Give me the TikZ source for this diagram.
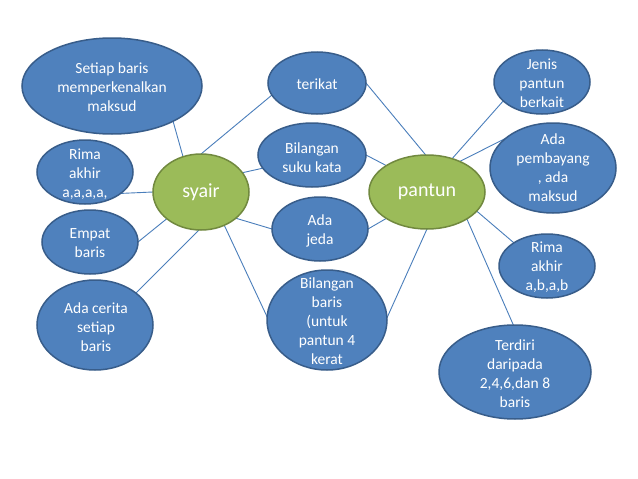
\documentclass[tikz,border=0pt]{standalone}
\usepackage{fontspec}
\setmainfont{Carlito}
\usetikzlibrary{shapes.geometric,backgrounds}
\definecolor{bfill}{HTML}{4F81BD}
\definecolor{bdraw}{HTML}{385D8A}
\definecolor{gfill}{HTML}{9BBB59}
\definecolor{gdraw}{HTML}{71893F}
\definecolor{lcol}{HTML}{4A7EBB}
\begin{document}
\begin{tikzpicture}[x=1pt,y=-1pt,
 bub/.style={ellipse, fill=bfill, draw=bdraw, line width=1.5pt, inner sep=0pt, outer sep=0pt},
 hub/.style={ellipse, fill=gfill, draw=gdraw, line width=1.5pt, inner sep=0pt, outer sep=0pt},
 txt/.style={text=white, align=center, font=\fontsize{15.5}{19}\selectfont, inner sep=0pt},
 htxt/.style={text=white, font=\fontsize{20}{24}\selectfont, inner sep=0pt},
 link/.style={draw=lcol, line width=0.9pt}]
\useasboundingbox (0,0) rectangle (638,479);

% ellipses
\node[bub, minimum width=180pt, minimum height=96pt] (setiap) at (112,86) {};
\node[bub, minimum width=96pt, minimum height=64pt] (rimaA) at (85,172) {};
\node[bub, minimum width=96pt, minimum height=64pt] (empat) at (90,242) {};
\node[bub, minimum width=116pt, minimum height=90pt] (cerita) at (95,325) {};
\node[hub, minimum width=96pt, minimum height=76pt] (syair) at (201,192) {};
\node[bub, minimum width=98pt, minimum height=62pt] (terikat) at (317,83) {};
\node[bub, minimum width=108pt, minimum height=64pt] (suku) at (312,155) {};
\node[bub, minimum width=96pt, minimum height=64pt] (jeda) at (320,229) {};
\node[bub, minimum width=120pt, minimum height=100pt] (bbaris) at (327,320) {};
\node[hub, minimum width=116pt, minimum height=74pt] (pantun) at (427,192) {};
\node[bub, minimum width=96pt, minimum height=64pt] (jenis) at (542,82) {};
\node[bub, minimum width=126pt, minimum height=90pt] (bayang) at (553,168) {};
\node[bub, minimum width=96pt, minimum height=64pt] (rimaB) at (547,266) {};
\node[bub, minimum width=152pt, minimum height=94pt] (terdiri) at (515,372) {};

% texts
\node[txt] (tsetiap) at (112,87) {Setiap baris\\memperkenalkan\\maksud};
\node[txt] (trimaA) at (85,174) {Rima\\akhir\\a,a,a,a,};
\node[txt] (tempat) at (90,243) {Empat\\baris};
\node[txt] (tcerita) at (96,327) {Ada cerita\\setiap\\baris};
\node[htxt] (tsyair) at (201,192) {syair};
\node[txt] (tterikat) at (317,84) {terikat};
\node[txt] (tsuku) at (312,158) {Bilangan\\suku kata};
\node[txt] (tjeda) at (320,231) {Ada\\jeda};
\node[txt] (tbbaris) at (327,321) {Bilangan\\baris\\(untuk\\pantun 4\\kerat};
\node[htxt] (tpantun) at (427,192) {pantun};
\node[txt] (tjenis) at (542,83) {Jenis\\pantun\\berkait};
\node[txt] (tbayang) at (553,168) {Ada\\pembayang\\, ada\\maksud};
\node[txt] (trimaB) at (547,267) {Rima\\akhir\\a,b,a,b};
\node[txt] (tterdiri) at (515,374) {Terdiri\\daripada\\2,4,6,dan 8\\baris};

% connectors
\begin{pgfonlayer}{background}
\fill[white] (0,0) rectangle (638,479);
\draw[link] (setiap.330) -- (syair.117);
\draw[link] (rimaA.329) -- (syair.180);
\draw[link] (empat.0) -- (syair.218);
\draw[link] (cerita.38) -- (syair.267);
\draw[link] (syair.90) -- (terikat.195);
\draw[link] (syair.25) -- (suku.195);
\draw[link] (syair.323) -- (jeda.180);
\draw[link] (syair.305) -- (bbaris.177);
\draw[link] (terikat.0) -- (pantun.92);
\draw[link] (suku.0) -- (pantun.147);
\draw[link] (jeda.0) -- (pantun.213);
\draw[link] (bbaris.2) -- (pantun.270);
\draw[link] (pantun.53) -- (jenis.206);
\draw[link] (pantun.43) -- (bayang.148);
\draw[link] (pantun.339) -- (rimaB.145);
\draw[link] (pantun.326) -- (terdiri.92);
\end{pgfonlayer}
\end{tikzpicture}
\end{document}
